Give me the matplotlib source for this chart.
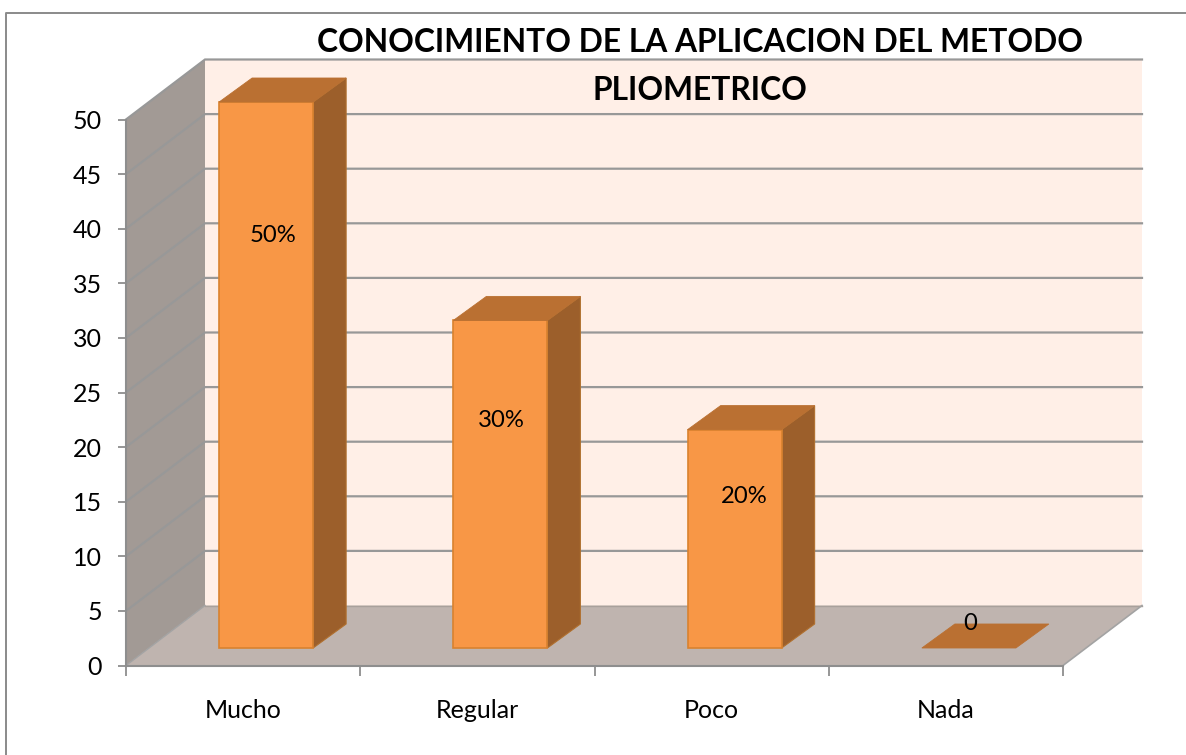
import matplotlib
matplotlib.use("Agg")
import matplotlib.pyplot as plt
from matplotlib.patches import Polygon
from matplotlib.lines import Line2D

categories = ["Mucho", "Regular", "Poco", "Nada"]
values = [50, 30, 20, 0]
data_labels = ["50%", "30%", "20%", "0"]
y_ticks = [0, 5, 10, 15, 20, 25, 30, 35, 40, 45, 50]
title_lines = ["CONOCIMIENTO DE LA APLICACION DEL METODO", "PLIOMETRICO"]

W, H = 1186, 755
plt.rcParams["font.family"] = ["Lato", "DejaVu Sans"]
fig = plt.figure(figsize=(W / 100, H / 100), dpi=100, facecolor="white")
L, R, T, B = 126, 1063, 119.5, 665.5
ax = fig.add_axes([L / W, 1 - B / H, (R - L) / W, (B - T) / H])
ax.set_xlim(0, len(categories))
ax.set_ylim(0, 50)
ax.patch.set_visible(False)

ux = (R - L) / len(categories)   # pixels per category
uy = (B - T) / 50                # pixels per value unit
DX, DY = 79 / ux, 60 / uy        # depth of the box
FX, FY = 23 / ux, 17.5 / uy      # bar front offset from the front plane
BW = 94 / ux                     # bar width
BX, BY = 33 / ux, 24 / uy        # bar depth

GRID = "#989898"
AXIS = "#8e8e8e"
n = len(categories)
top = y_ticks[-1]


def poly(pts, fc, ec="none", lw=0, z=1):
    ax.add_patch(Polygon(pts, closed=True, facecolor=fc, edgecolor=ec,
                         linewidth=lw, zorder=z, clip_on=False))


# walls and floor
poly([(DX, DY), (n + DX, DY), (n + DX, top + DY), (DX, top + DY)], "#FFEFE7", z=1)
poly([(0, 0), (DX, DY), (DX, top + DY), (0, top)], "#A29A95", z=1)
poly([(0, 0), (n, 0), (n + DX, DY), (DX, DY)], "#BFB4AF", z=1)

# gridlines on back and side wall
for v in y_ticks[1:]:
    ax.plot([0, DX, n + DX], [v, v + DY, v + DY], color=GRID, lw=1.6, zorder=2,
            clip_on=False, solid_joinstyle="miter")
ax.plot([DX, n + DX], [DY, DY], color="#a8a09b", lw=1.0, zorder=2, clip_on=False)
ax.plot([0, DX], [0, DY], color="#a3a3a3", lw=1.0, zorder=2, clip_on=False)
ax.plot([n, n + DX], [0, DY], color="#a3a3a3", lw=1.2, zorder=2, clip_on=False)

# bars
for i, v in enumerate(values):
    x0 = i + 0.5 - BW / 2 + FX
    x1 = x0 + BW
    y0 = FY
    y1 = FY + v
    if v > 0:
        poly([(x1, y0), (x1 + BX, y0 + BY), (x1 + BX, y1 + BY), (x1, y1)],
             "#9C5F2B", ec="#B0702F", lw=0.8, z=3)
        poly([(x0, y0), (x1, y0), (x1, y1), (x0, y1)], "#F89746", ec="#D9822F", lw=1.2, z=4)
    poly([(x0, y1), (x1, y1), (x1 + BX, y1 + BY), (x0 + BX, y1 + BY)],
         "#BA7032", ec="#BA7032", lw=0.6, z=4)

# data labels, moved by hand in the original
offsets = [(7, 140), (1, 64), (10, 42), (1, 25)]
for i, (v, lab, off) in enumerate(zip(values, data_labels, offsets)):
    cx = i + 0.5 + FX
    cy = FY + v * 0.5 if v else FY
    ax.annotate(lab, (cx, cy), xytext=off, textcoords="offset pixels", ha="center",
                va="center", fontsize=17.2, color="black", zorder=6, annotation_clip=False)

# axes
for s in ("top", "right"):
    ax.spines[s].set_visible(False)
for s in ("left", "bottom"):
    ax.spines[s].set_color(AXIS)
    ax.spines[s].set_linewidth(1.5)
    ax.spines[s].set_zorder(5)
ax.set_yticks(y_ticks)
ax.set_xticks(range(n + 1))
ax.set_xticklabels([])
ax.set_xticks([i + 0.5 for i in range(n)], minor=True)
ax.set_xticklabels(categories, minor=True, fontsize=18)
ax.tick_params(axis="x", which="major", length=7, width=1.3, color=AXIS, direction="out")
ax.tick_params(axis="x", which="minor", length=0, pad=24)
ax.tick_params(axis="y", length=6, width=1.3, color=AXIS, labelsize=18, pad=11.5, direction="out")

# title
fig.text(700 / W, 1 - 43 / H, title_lines[0], ha="center", va="center",
         fontsize=22.9, fontweight="bold", color="black", zorder=10)
fig.text(700 / W, 1 - 90 / H, title_lines[1], ha="center", va="center",
         fontsize=22.9, fontweight="bold", color="black", zorder=10)

# chart frame
fig.add_artist(Line2D([6 / W, 6 / W, 1], [0, 1 - 13 / H, 1 - 13 / H], color="#8a8a8a", lw=1.4))

fig.savefig("out.png", dpi=100)
